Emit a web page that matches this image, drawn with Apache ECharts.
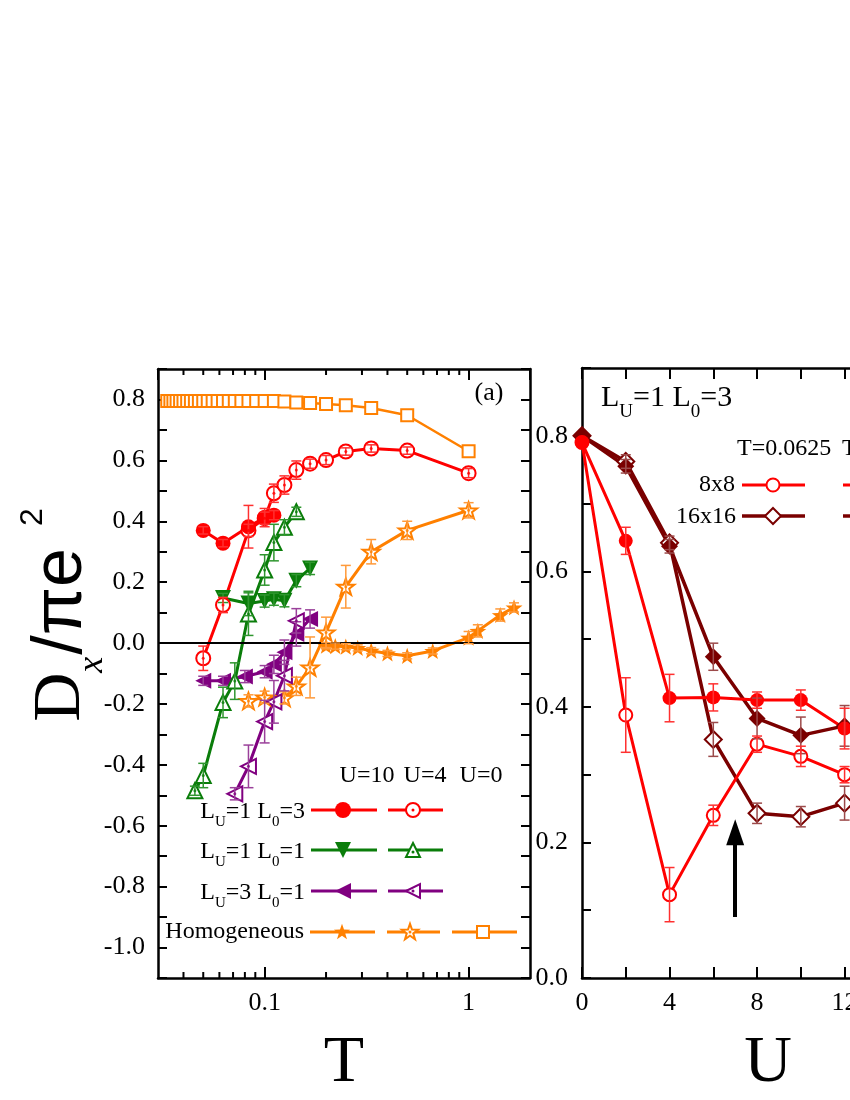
<!DOCTYPE html>
<html>
<head>
<meta charset="utf-8">
<title>Dx / pi e2 versus T and U</title>
<script src="https://cdn.jsdelivr.net/npm/echarts@6.0.0/dist/echarts.min.js"></script>
<style>
  html, body { margin: 0; padding: 0; background: #fff; }
  #chart { width: 850px; height: 1100px; }
</style>
</head>
<body>
<div id="chart"></div>
<script>
// ---------- panel (a): Dx/pi e^2 against T (log axis) ----------
// L_U=1 L_0=3
var redFilledT   = [0.05, 0.0625, 0.0833, 0.1, 0.111];
var redFilledD   = [0.37, 0.328, 0.382, 0.412, 0.42];
var redFilledErr = [0.012, 0.012, 0.07, 0.03, 0.015];
var redOpenT   = [0.05, 0.0625, 0.0833, 0.1, 0.111, 0.125, 0.143, 0.167, 0.2, 0.25, 0.333, 0.5, 1.0];
var redOpenD   = [-0.05, 0.125, 0.37, 0.41, 0.492, 0.519, 0.568, 0.589, 0.601, 0.629, 0.639, 0.632, 0.558];
var redOpenErr = [0.04, 0.025, 0.02, 0.02, 0.03, 0.03, 0.03, 0.015, 0.015, 0.012, 0.012, 0.012, 0.015];
// L_U=1 L_0=1
var greenFilledT   = [0.0625, 0.0833, 0.1, 0.111, 0.125, 0.143, 0.167];
var greenFilledD   = [0.148, 0.13, 0.138, 0.144, 0.139, 0.205, 0.245];
var greenFilledErr = [0.015, 0.04, 0.02, 0.02, 0.02, 0.02, 0.02];
var greenOpenT   = [0.0455, 0.05, 0.0625, 0.0714, 0.0833, 0.1, 0.111, 0.125, 0.143];
var greenOpenD   = [-0.485, -0.435, -0.195, -0.125, 0.095, 0.24, 0.33, 0.38, 0.431];
var greenOpenErr = [0.015, 0.04, 0.05, 0.06, 0.07, 0.05, 0.06, 0.025, 0.015];
// L_U=3 L_0=1
var purpleFilledT   = [0.05, 0.0625, 0.08, 0.1, 0.111, 0.125, 0.143, 0.167];
var purpleFilledD   = [-0.124, -0.124, -0.11, -0.094, -0.07, -0.03, 0.03, 0.079];
var purpleFilledErr = [0.015, 0.015, 0.02, 0.02, 0.03, 0.04, 0.04, 0.03];
var purpleOpenT   = [0.0714, 0.0833, 0.1, 0.111, 0.125, 0.143];
var purpleOpenD   = [-0.495, -0.405, -0.258, -0.193, -0.107, 0.073];
var purpleOpenErr = [0.02, 0.07, 0.07, 0.07, 0.05, 0.04];
// Homogeneous
var homoU10T   = [0.2, 0.222, 0.25, 0.286, 0.333, 0.4, 0.5, 0.667, 1.0, 1.11, 1.43, 1.67];
var homoU10D   = [-0.009, -0.01, -0.012, -0.016, -0.025, -0.034, -0.042, -0.026, 0.018, 0.04, 0.092, 0.117];
var homoU10Err = [0.01, 0.01, 0.01, 0.01, 0.01, 0.01, 0.01, 0.01, 0.02, 0.02, 0.02, 0.015];
var homoU4T   = [0.0833, 0.1, 0.125, 0.143, 0.167, 0.2, 0.25, 0.333, 0.5, 1.0];
var homoU4D   = [-0.19, -0.178, -0.18, -0.142, -0.08, 0.035, 0.185, 0.30, 0.37, 0.436];
var homoU4Err = [0.02, 0.02, 0.02, 0.03, 0.1, 0.05, 0.07, 0.04, 0.03, 0.025];
var homoU0T = [0.0333, 0.0345, 0.0357, 0.037, 0.0385, 0.04, 0.0417, 0.0435, 0.0455, 0.0476,
               0.05, 0.0526, 0.0556, 0.0588, 0.0625, 0.0667, 0.0714, 0.0769, 0.0833, 0.0909,
               0.1, 0.111, 0.125, 0.143, 0.167, 0.2, 0.25, 0.333, 0.5, 1.0];
var homoU0D = [0.795, 0.795, 0.795, 0.795, 0.795, 0.795, 0.795, 0.795, 0.795, 0.795,
               0.795, 0.795, 0.795, 0.795, 0.795, 0.795, 0.795, 0.795, 0.795, 0.795,
               0.795, 0.795, 0.793, 0.79, 0.788, 0.785, 0.781, 0.772, 0.748, 0.63];
var logMinorTicks = [0.04, 0.05, 0.06, 0.07, 0.08, 0.09, 0.2, 0.3, 0.4, 0.5, 0.6, 0.7, 0.8, 0.9];

// ---------- panel (b): Dx/pi e^2 against U, L_U=1 L_0=3 ----------
var uValues = [0, 2, 4, 6, 8, 10, 12];
var lowT8x8     = [0.79, 0.388, 0.123, 0.24, 0.345, 0.327, 0.30];
var lowT8x8Err  = [0, 0.055, 0.04, 0.015, 0.012, 0.015, 0.012];
var highT8x8    = [0.79, 0.645, 0.413, 0.414, 0.41, 0.41, 0.368];
var highT8x8Err = [0, 0.02, 0.035, 0.02, 0.012, 0.015, 0.03];
var lowT16      = [0.80, 0.762, 0.642, 0.352, 0.243, 0.238, 0.258];
var lowT16Err   = [0, 0.01, 0.01, 0.025, 0.015, 0.015, 0.025];
var highT16     = [0.80, 0.755, 0.637, 0.474, 0.383, 0.358, 0.372];
var highT16Err  = [0, 0.01, 0.01, 0.02, 0.03, 0.027, 0.03];
var arrowU = 7, arrowFrom = 0.09, arrowTo = 0.215;

var FONT = 'Liberation Serif, Times New Roman, serif';
var SANS = 'Liberation Sans, Arial, sans-serif';
var RED = '#ff0000', GREEN = '#0a7d0a', PURPLE = '#800080', ORANGE = '#ff8000', DARKRED = '#7a0000';
var STAR = 'path://M50,0 L61.76,33.82 L97.55,34.55 L69.02,56.18 L79.39,90.45 L50,70 L20.61,90.45 L30.98,56.18 L2.45,34.55 L38.24,33.82 Z';

function pts(xs, ys) { return xs.map(function (x, i) { return [x, ys[i]]; }); }

function curve(p, xs, ys, sym, size, color, filled, lw, rot) {
  return {
    type: 'line', xAxisIndex: p, yAxisIndex: p, data: pts(xs, ys),
    symbol: sym, symbolSize: size, symbolRotate: rot || 0, symbolKeepAspect: true, showAllSymbol: true,
    lineStyle: { color: color, width: lw },
    itemStyle: { color: filled ? color : '#fff', borderColor: color, borderWidth: filled ? 0 : 2 },
    z: 3, silent: true
  };
}

function dots(p, xs, ys, color) {
  return { type: 'scatter', xAxisIndex: p, yAxisIndex: p, data: pts(xs, ys), symbol: 'circle',
    symbolSize: 3, itemStyle: { color: color }, z: 6, silent: true };
}

function errors(p, xs, ys, es, color) {
  return {
    type: 'custom', xAxisIndex: p, yAxisIndex: p, z: 5, silent: true,
    data: xs.map(function (x, i) { return [x, ys[i], es[i]]; }),
    encode: { x: 0, y: 1 },
    renderItem: function (params, api) {
      var x = api.value(0), y = api.value(1), e = api.value(2);
      if (!e) return { type: 'group', children: [] };
      var hi = api.coord([x, y + e]), lo = api.coord([x, y - e]);
      var st = { stroke: color, lineWidth: 1.5, fill: null };
      return { type: 'group', children: [
        { type: 'line', shape: { x1: hi[0], y1: hi[1], x2: lo[0], y2: lo[1] }, style: st },
        { type: 'line', shape: { x1: hi[0] - 5, y1: hi[1], x2: hi[0] + 5, y2: hi[1] }, style: st },
        { type: 'line', shape: { x1: lo[0] - 5, y1: lo[1], x2: lo[0] + 5, y2: lo[1] }, style: st }
      ] };
    }
  };
}

function evenTenth(v) {
  var k = Math.round(v * 10);
  return Math.abs(k) % 2 === 0 ? (k / 10).toFixed(1) : '';
}

function xAxisCfg(grid, type, pos, min, max, extra) {
  var a = {
    type: type, gridIndex: grid, position: pos, min: min, max: max,
    axisLine: { show: true, onZero: false, lineStyle: { color: '#000', width: 2.5 } },
    axisTick: { show: true, inside: true, length: 11, lineStyle: { color: '#000', width: 2 } },
    splitLine: { show: false },
    axisLabel: { show: pos === 'bottom', color: '#000', fontFamily: FONT, fontSize: 26, margin: 12,
                 showMinLabel: false, showMaxLabel: false }
  };
  if (type === 'log') a.logBase = 10;
  return Object.assign(a, extra || {});
}

function yAxisCfg(grid, pos, min, max) {
  return {
    type: 'value', gridIndex: grid, position: pos, min: min, max: max, interval: 0.1,
    axisLine: { show: true, onZero: false, lineStyle: { color: '#000', width: 2.5 } },
    axisTick: { show: true, inside: true, length: 9, lineStyle: { color: '#000', width: 2 } },
    splitLine: { show: false },
    axisLabel: { show: pos === 'left', color: '#000', fontFamily: FONT, fontSize: 26,
                 margin: 13, formatter: evenTenth }
  };
}

// ----- graphic helpers for the hand-made legends -----
function gLine(x1, x2, y, color, w) {
  return { type: 'line', z: 20, shape: { x1: x1, y1: y, x2: x2, y2: y }, style: { stroke: color, lineWidth: w } };
}
function starPoints(cx, cy, s) {
  var p = [[50,0],[61.76,33.82],[97.55,34.55],[69.02,56.18],[79.39,90.45],[50,70],[20.61,90.45],[30.98,56.18],[2.45,34.55],[38.24,33.82]];
  return p.map(function (q) { return [cx + (q[0] - 50) * s / 100, cy + (q[1] - 48) * s / 100]; });
}
function gMarker(kind, cx, cy, s, color, filled, dot) {
  var style = { fill: filled ? color : '#fff', stroke: color, lineWidth: filled ? 0 : 2 };
  var h = s / 2, el;
  if (kind === 'circle') el = { type: 'circle', shape: { cx: cx, cy: cy, r: h }, style: style };
  else if (kind === 'rect') el = { type: 'rect', shape: { x: cx - h, y: cy - h, width: s, height: s }, style: style };
  else {
    var P;
    if (kind === 'up') P = [[cx, cy - h], [cx + h, cy + h], [cx - h, cy + h]];
    if (kind === 'down') P = [[cx - h, cy - h], [cx + h, cy - h], [cx, cy + h]];
    if (kind === 'left') P = [[cx - h, cy], [cx + h, cy - h], [cx + h, cy + h]];
    if (kind === 'diamond') P = [[cx, cy - h], [cx + h, cy], [cx, cy + h], [cx - h, cy]];
    if (kind === 'star') P = starPoints(cx, cy, s);
    el = { type: 'polygon', shape: { points: P }, style: style };
  }
  el.z = 21;
  var out = [el];
  if (dot) out.push({ type: 'circle', z: 22, shape: { cx: cx, cy: cy + (kind === 'up' ? 2 : 0), r: 1.5 }, style: { fill: color } });
  return out;
}
function subText(x, y, parts, size, subSize, subPad, align) {
  var t = parts.map(function (p, i) { return (i % 2 === 0 ? '{n|' : '{s|') + p + '}'; }).join('');
  return { type: 'text', z: 20, x: x, y: y, style: {
    text: t, align: align, textAlign: align, verticalAlign: 'top', textVerticalAlign: 'top', fill: '#000',
    rich: {
      n: { fontFamily: FONT, fontSize: size, lineHeight: size, verticalAlign: 'top', fill: '#000' },
      s: { fontFamily: FONT, fontSize: subSize, lineHeight: subSize, verticalAlign: 'top', padding: [subPad, 0, 0, 0], fill: '#000' }
    } } };
}
function plainText(x, y, txt, size, align) {
  return { type: 'text', z: 20, x: x, y: y, style: { text: txt, fontFamily: FONT, fontSize: size, fill: '#000',
    align: align, textAlign: align, verticalAlign: 'middle', textVerticalAlign: 'middle' } };
}

var graphics = [];
// y axis title
graphics.push({ type: 'text', z: 20, x: 15, y: 615, rotation: Math.PI / 2, style: {
  text: '{d|D}{s|x}{n|/πe}{p|2}', align: 'center', textAlign: 'center',
  verticalAlign: 'top', textVerticalAlign: 'top', fill: '#000',
  rich: {
    d: { fontFamily: FONT, fontSize: 68, lineHeight: 68, verticalAlign: 'top', padding: [12, 0, 0, 0], fill: '#000' },
    s: { fontFamily: FONT, fontSize: 36, fontStyle: 'italic', lineHeight: 36, verticalAlign: 'top', padding: [60, 2, 0, 0], fill: '#000' },
    n: { fontFamily: SANS, fontSize: 70, lineHeight: 68, verticalAlign: 'top', padding: [12, 0, 0, 0], fill: '#000' },
    p: { fontFamily: SANS, fontSize: 32, lineHeight: 32, verticalAlign: 'top', padding: [2, 0, 0, 22], fill: '#000' }
  } } });
graphics.push(plainText(489, 393, '(a)', 26, 'center'));

// legend of panel (a)
graphics.push(plainText(367, 776, 'U=10', 24, 'center'));
graphics.push(plainText(425, 776, 'U=4', 24, 'center'));
graphics.push(plainText(481, 776, 'U=0', 24, 'center'));
var legendRows = [
  { y: 810, parts: ['L', 'U', '=1 L', '0', '=3'], color: RED, a: 'circle', b: 'circle' },
  { y: 850, parts: ['L', 'U', '=1 L', '0', '=1'], color: GREEN, a: 'down', b: 'up' },
  { y: 891, parts: ['L', 'U', '=3 L', '0', '=1'], color: PURPLE, a: 'left', b: 'left' }
];
legendRows.forEach(function (r) {
  graphics.push(subText(305, r.y - 10, r.parts, 24, 15, 15, 'right'));
  graphics.push(gLine(311, 377, r.y, r.color, 3));
  graphics.push(gLine(388, 443, r.y, r.color, 3));
  graphics = graphics.concat(gMarker(r.a, 343, r.y, 16, r.color, true, false));
  graphics = graphics.concat(gMarker(r.b, 413, r.y, 14, r.color, false, true));
});
graphics.push(plainText(304, 932, 'Homogeneous', 24, 'right'));
graphics.push(gLine(310, 375, 932, ORANGE, 3));
graphics.push(gLine(387, 440, 932, ORANGE, 3));
graphics.push(gLine(452, 517, 932, ORANGE, 3));
graphics = graphics.concat(gMarker('star', 342, 932, 17, ORANGE, true, false));
graphics = graphics.concat(gMarker('star', 410, 932, 17, ORANGE, false, true));
graphics = graphics.concat(gMarker('rect', 483, 932, 12, ORANGE, false, false));

// legend of panel (b)
graphics.push(subText(601, 383, ['L', 'U', '=1 L', '0', '=3'], 30, 19, 20, 'left'));
graphics.push(plainText(737, 449, 'T=0.0625', 24, 'left'));
graphics.push(plainText(842, 449, 'T=0.125', 24, 'left'));
graphics.push(plainText(735, 485, '8x8', 24, 'right'));
graphics.push(plainText(736, 517, '16x16', 24, 'right'));
graphics.push(gLine(742, 805, 485, RED, 3));
graphics.push(gLine(843, 907, 485, RED, 3));
graphics.push(gLine(742, 805, 516, DARKRED, 3.5));
graphics.push(gLine(843, 907, 516, DARKRED, 3.5));
graphics = graphics.concat(gMarker('circle', 773, 485, 13, RED, false, false));
graphics = graphics.concat(gMarker('circle', 875, 485, 13, RED, true, false));
graphics = graphics.concat(gMarker('diamond', 773, 516, 16, DARKRED, false, false));
graphics = graphics.concat(gMarker('diamond', 875, 516, 16, DARKRED, true, false));

var series = [
  // minor ticks of the log axis (bottom and top)
  {
    type: 'custom', xAxisIndex: 0, yAxisIndex: 0, z: 4, silent: true,
    data: logMinorTicks.map(function (t) { return [t, 0]; }),
    encode: { x: 0, y: 1 },
    renderItem: function (params, api) {
      var cs = params.coordSys, x = api.coord([api.value(0), 0])[0];
      var st = { stroke: '#000', lineWidth: 2 };
      return { type: 'group', children: [
        { type: 'line', shape: { x1: x, y1: cs.y + cs.height, x2: x, y2: cs.y + cs.height - 6 }, style: st },
        { type: 'line', shape: { x1: x, y1: cs.y, x2: x, y2: cs.y + 6 }, style: st }
      ] };
    }
  },
  Object.assign(curve(0, homoU0T, homoU0D, 'rect', 12, ORANGE, false, 2.5), {
    markLine: { silent: true, symbol: ['none', 'none'], label: { show: false },
                lineStyle: { color: '#000', width: 2, type: 'solid' }, data: [{ yAxis: 0 }] }
  }),
  curve(0, homoU10T, homoU10D, STAR, 17, ORANGE, true, 3),
  curve(0, homoU4T, homoU4D, STAR, 17, ORANGE, false, 3),
  curve(0, purpleFilledT, purpleFilledD, 'triangle', 16, PURPLE, true, 3, 90),
  curve(0, purpleOpenT, purpleOpenD, 'triangle', 15, PURPLE, false, 3, 90),
  curve(0, greenFilledT, greenFilledD, 'triangle', 16, GREEN, true, 3, 180),
  curve(0, greenOpenT, greenOpenD, 'triangle', 15, GREEN, false, 3),
  curve(0, redOpenT, redOpenD, 'circle', 14, RED, false, 3),
  curve(0, redFilledT, redFilledD, 'circle', 15, RED, true, 3),
  dots(0, homoU4T, homoU4D, ORANGE),
  dots(0, purpleOpenT, purpleOpenD, PURPLE),
  dots(0, greenOpenT, greenOpenD, GREEN),
  dots(0, redOpenT, redOpenD, RED),
  errors(0, homoU10T, homoU10D, homoU10Err, '#ff9a3a'),
  errors(0, homoU4T, homoU4D, homoU4Err, '#ff9a3a'),
  errors(0, purpleFilledT, purpleFilledD, purpleFilledErr, '#9a409a'),
  errors(0, purpleOpenT, purpleOpenD, purpleOpenErr, '#9a409a'),
  errors(0, greenFilledT, greenFilledD, greenFilledErr, '#2f962f'),
  errors(0, greenOpenT, greenOpenD, greenOpenErr, '#2f962f'),
  errors(0, redOpenT, redOpenD, redOpenErr, '#ff3030'),
  errors(0, redFilledT, redFilledD, redFilledErr, '#ff3030'),

  // panel (b)
  curve(2, uValues, lowT16, 'diamond', 17, DARKRED, false, 3.5),
  Object.assign(curve(2, uValues, highT16, 'diamond', 17, DARKRED, true, 3.5), {
    markLine: { silent: true, symbol: ['none', 'triangle'], symbolSize: [18, 26], label: { show: false },
                lineStyle: { color: '#000', width: 4, type: 'solid' },
                data: [[{ coord: [arrowU, arrowFrom] }, { coord: [arrowU, arrowTo] }]] }
  }),
  curve(2, uValues, lowT8x8, 'circle', 13, RED, false, 3),
  curve(2, uValues, highT8x8, 'circle', 14, RED, true, 3),
  errors(2, uValues, lowT16, lowT16Err, '#9c4a4a'),
  errors(2, uValues, highT16, highT16Err, '#9c4a4a'),
  errors(2, uValues, lowT8x8, lowT8x8Err, '#ff3030'),
  errors(2, uValues, highT8x8, highT8x8Err, '#ff3030')
];

var option = {
  animation: false,
  backgroundColor: '#fff',
  grid: [
    { left: 158, top: 369, width: 372, height: 609, outerBoundsMode: 'none' },
    { left: 582, top: 368, width: 372, height: 610, outerBoundsMode: 'none' }
  ],
  xAxis: [
    xAxisCfg(0, 'log', 'bottom', 0.03, 2, {
      name: 'T', nameLocation: 'middle', nameGap: 53,
      nameTextStyle: { fontFamily: FONT, fontSize: 66, color: '#000' }
    }),
    xAxisCfg(0, 'log', 'top', 0.03, 2),
    xAxisCfg(1, 'value', 'bottom', 0, 17, {
      interval: 2, name: 'U', nameLocation: 'middle', nameGap: 53,
      nameTextStyle: { fontFamily: FONT, fontSize: 66, color: '#000' }
    }),
    xAxisCfg(1, 'value', 'top', 0, 17, { interval: 2 })
  ],
  yAxis: [
    yAxisCfg(0, 'left', -1.1, 0.9),
    yAxisCfg(0, 'right', -1.1, 0.9),
    yAxisCfg(1, 'left', 0, 0.9),
    yAxisCfg(1, 'right', 0, 0.9)
  ],
  graphic: graphics,
  series: series
};
option.xAxis[2].axisLabel.formatter = function (v) { return v % 4 === 0 ? String(v) : ''; };
option.xAxis[2].axisLabel.showMinLabel = true;
option.yAxis[2].axisLabel.margin = 14;

var chart = echarts.init(document.getElementById('chart'));
chart.setOption(option);
</script>
</body>
</html>
